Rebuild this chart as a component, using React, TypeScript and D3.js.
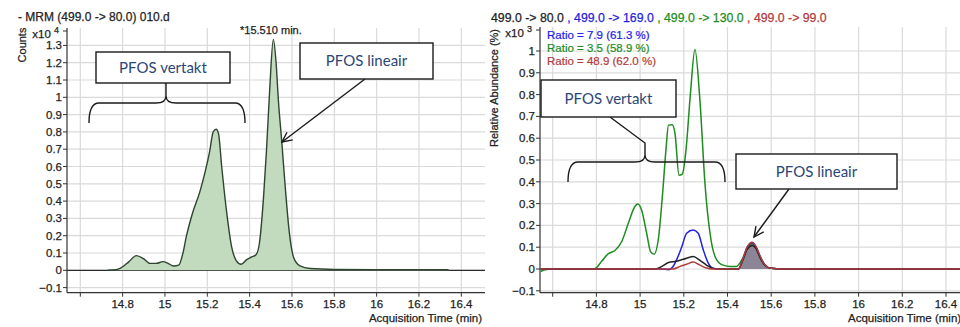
import { useEffect, useRef } from "react";
import * as d3 from "d3";

// ---- data ----
const xTicks = [14.6, 14.8, 15, 15.2, 15.4, 15.6, 15.8, 16, 16.2, 16.4];
const xTickLabels = ["", "14.8", "15", "15.2", "15.4", "15.6", "15.8", "16", "16.2", "16.4"];
const leftYTicks = [-0.1, 0, 0.1, 0.2, 0.3, 0.4, 0.5, 0.6, 0.7, 0.8, 0.9, 1, 1.1, 1.2, 1.3];
const rightYTicks = [-0.1, 0, 0.1, 0.2, 0.3, 0.4, 0.5, 0.6, 0.7, 0.8, 0.9, 1];

// counts x10^4, m/z 499 -> 80
const mrmTrace: [number, number][] = [
  [14.73, 0], [14.77, 0.003], [14.79, 0.012], [14.83, 0.05], [14.865, 0.085], [14.9, 0.066],
  [14.93, 0.04], [14.96, 0.04], [14.99, 0.05], [15.015, 0.04], [15.04, 0.025], [15.065, 0.03],
  [15.085, 0.1], [15.1, 0.19], [15.13, 0.33], [15.165, 0.455], [15.19, 0.57], [15.21, 0.68],
  [15.228, 0.8], [15.242, 0.815], [15.253, 0.79], [15.268, 0.6], [15.292, 0.33], [15.315, 0.135],
  [15.336, 0.058], [15.36, 0.035], [15.386, 0.062], [15.41, 0.077], [15.43, 0.09], [15.446, 0.155],
  [15.465, 0.41], [15.48, 0.7], [15.495, 1.05], [15.512, 1.335], [15.525, 1.2], [15.536, 0.98],
  [15.552, 0.74], [15.567, 0.5], [15.588, 0.213], [15.607, 0.077], [15.638, 0.025], [15.686, 0.01],
  [15.8, 0.005], [16.0, 0.004], [16.2, 0.004], [16.34, 0.003],
];

// relative abundance x10^3, qualifier traces
const trace80: [number, number][] = [
  [14.545, 0], [15.07, 0], [15.1, 0.012], [15.13, 0.03], [15.167, 0.036], [15.198, 0.045],
  [15.243, 0.057], [15.274, 0.04], [15.305, 0.017], [15.33, 0.004], [15.36, 0], [15.45, 0],
  [15.47, 0.04], [15.49, 0.09], [15.513, 0.108], [15.53, 0.095], [15.55, 0.05], [15.57, 0.018],
  [15.6, 0.003], [15.65, 0], [16.7, 0],
];
const trace169: [number, number][] = [
  [14.545, 0], [15.1, 0], [15.13, -0.003], [15.15, 0.01], [15.167, 0.042], [15.19, 0.1],
  [15.213, 0.164], [15.243, 0.179], [15.266, 0.164], [15.289, 0.088], [15.312, 0.027], [15.33, 0.005],
  [15.36, 0], [15.45, 0], [15.47, 0.045], [15.49, 0.1], [15.513, 0.12], [15.53, 0.1], [15.55, 0.055],
  [15.57, 0.02], [15.6, 0.003], [15.65, 0], [16.7, 0],
];
const trace130: [number, number][] = [
  [14.545, -0.012], [14.56, -0.005], [14.6, 0], [14.79, 0], [14.824, 0.035], [14.854, 0.07],
  [14.885, 0.085], [14.916, 0.126], [14.946, 0.21], [14.977, 0.288], [14.99, 0.298], [15.007, 0.27],
  [15.03, 0.164], [15.048, 0.08], [15.064, 0.068], [15.083, 0.133], [15.103, 0.346], [15.118, 0.543],
  [15.13, 0.66], [15.147, 0.662], [15.16, 0.62], [15.178, 0.43], [15.193, 0.435], [15.21, 0.545],
  [15.23, 0.8], [15.251, 1.007], [15.274, 0.77], [15.297, 0.39], [15.32, 0.164], [15.343, 0.057],
  [15.373, 0.02], [15.41, 0.012], [15.44, 0.012], [15.47, 0.05], [15.49, 0.095], [15.513, 0.117],
  [15.53, 0.1], [15.55, 0.055], [15.57, 0.02], [15.6, 0.003], [15.65, 0], [16.7, 0],
];
const trace99: [number, number][] = [
  [14.545, 0], [15.15, 0], [15.183, 0.012], [15.213, 0.022], [15.243, 0.032], [15.27, 0.02],
  [15.3, 0.006], [15.33, 0], [15.45, 0], [15.47, 0.045], [15.49, 0.1], [15.513, 0.123], [15.53, 0.105],
  [15.55, 0.058], [15.57, 0.02], [15.6, 0.003], [15.65, 0], [16.7, 0],
];

const transitions = [
  { label: "499.0 -> 80.0", color: "#222222" },
  { label: "499.0 -> 169.0", color: "#1f1fe0" },
  { label: "499.0 -> 130.0", color: "#1e8c1e" },
  { label: "499.0 -> 99.0", color: "#b03a3a" },
];
const ratios = [
  { label: "Ratio = 7.9 (61.3 %)", color: "#2020f0" },
  { label: "Ratio = 3.5 (58.9 %)", color: "#1e8c1e" },
  { label: "Ratio = 48.9 (62.0 %)", color: "#b03a3a" },
];

const AX = "Liberation Sans, Arial, sans-serif";
const BOXFONT = "Lato, 'Open Sans', sans-serif";
const GRID = "#dadada";
const TXT = "#222";

export default function App() {
  const ref = useRef<SVGSVGElement>(null);

  useEffect(() => {
    if (!ref.current) return;
    const svg = d3.select(ref.current);
    svg.selectAll("*").remove();

    const axisBottom = 292.7;

    // axis-style text, a touch heavier like the blurred original
    const label = (sel: d3.Selection<any, unknown, null, undefined>, size: number) =>
      sel.attr("font-size", size).attr("font-family", AX).attr("fill", TXT)
        .attr("stroke", TXT).attr("stroke-width", 0.25);

    function panel(opts: {
      x: d3.ScaleLinear<number, number>; y: d3.ScaleLinear<number, number>;
      left: number; right: number; top: number; yTicks: number[];
      exp: string; yTitle: string; yTitleX: number; yTitleY: number;
    }) {
      const { x, y, left, right, top, yTicks } = opts;
      const g = svg.append("g");
      // grid
      yTicks.forEach(v => {
        g.append("line").attr("x1", left).attr("x2", right)
          .attr("y1", y(v)).attr("y2", y(v)).attr("stroke", GRID).attr("stroke-width", 1.2);
      });
      xTicks.forEach(v => {
        g.append("line").attr("x1", x(v)).attr("x2", x(v))
          .attr("y1", top).attr("y2", axisBottom).attr("stroke", GRID).attr("stroke-width", 1.2);
      });
      // y axis
      g.append("line").attr("x1", left).attr("x2", left).attr("y1", top).attr("y2", axisBottom)
        .attr("stroke", "#333").attr("stroke-width", 1.2);
      yTicks.forEach(v => {
        g.append("line").attr("x1", left - 4).attr("x2", left).attr("y1", y(v)).attr("y2", y(v))
          .attr("stroke", "#333");
        label(g.append("text").attr("x", left - 5).attr("y", y(v) + 4).attr("text-anchor", "end"), 11.5)
          .text(d3.format("~g")(v));
      });
      g.append("line").attr("x1", left - 4).attr("x2", left).attr("y1", top + 3).attr("y2", top + 3)
        .attr("stroke", "#333");
      const ex = label(g.append("text").attr("x", left - 8).attr("y", top + 10).attr("text-anchor", "end"), 11.5);
      ex.append("tspan").text("x10 ");
      ex.append("tspan").attr("font-size", 9).attr("dy", -5).text(opts.exp);
      label(g.append("text").attr("transform", `translate(${opts.yTitleX},${opts.yTitleY}) rotate(-90)`)
        .attr("text-anchor", "middle"), 11).text(opts.yTitle);
      // x axis
      g.append("line").attr("x1", left).attr("x2", right).attr("y1", axisBottom).attr("y2", axisBottom)
        .attr("stroke", "#333").attr("stroke-width", 1.2);
      xTicks.forEach((v, i) => {
        g.append("line").attr("x1", x(v)).attr("x2", x(v)).attr("y1", axisBottom).attr("y2", axisBottom + 4)
          .attr("stroke", "#333");
        label(g.append("text").attr("x", x(v)).attr("y", axisBottom + 15).attr("text-anchor", "middle"), 11.5)
          .text(xTickLabels[i]);
      });
      return g;
    }

    // ---------- left panel ----------
    const xL = d3.scaleLinear().domain([14.6, 16.4]).range([80.3, 461.3]);
    const yL = d3.scaleLinear().domain([0, 1.3]).range([270.3, 45.4]);
    const gL = panel({
      x: xL, y: yL, left: 67, right: 485, top: 28, yTicks: leftYTicks,
      exp: "4", yTitle: "Counts", yTitleX: 26, yTitleY: 45,
    });
    gL.append("line").attr("x1", 67).attr("x2", 485).attr("y1", yL(0)).attr("y2", yL(0))
      .attr("stroke", "#2a2a2a").attr("stroke-width", 1.2);
    const areaL = d3.area<[number, number]>().x(d => xL(d[0])).y0(yL(0)).y1(d => yL(d[1]))
      .curve(d3.curveMonotoneX);
    const lineL = d3.line<[number, number]>().x(d => xL(d[0])).y(d => yL(d[1])).curve(d3.curveMonotoneX);
    gL.append("path").attr("d", areaL(mrmTrace)).attr("fill", "#c2dbbf");
    gL.append("path").attr("d", lineL(mrmTrace)).attr("fill", "none")
      .attr("stroke", "#2e4530").attr("stroke-width", 1.4);

    label(svg.append("text").attr("x", 18).attr("y", 20.5), 12).text("- MRM (499.0 -> 80.0) 010.d");
    label(svg.append("text").attr("x", 240).attr("y", 34), 11).text("*15.510 min.");
    label(svg.append("text").attr("x", 482).attr("y", 322).attr("text-anchor", "end"), 11.5)
      .text("Acquisition Time (min)");

    // ---------- right panel ----------
    const xR = d3.scaleLinear().domain([14.6, 16.4]).range([552.7, 946]);
    const yR = d3.scaleLinear().domain([0, 1]).range([269, 51]);
    const gR = panel({
      x: xR, y: yR, left: 540, right: 975, top: 27, yTicks: rightYTicks,
      exp: "3", yTitle: "Relative Abundance (%)", yTitleX: 498, yTitleY: 88,
    });
    const areaR = d3.area<[number, number]>().x(d => xR(d[0])).y0(yR(0)).y1(d => yR(d[1]))
      .curve(d3.curveMonotoneX);
    const lineR = d3.line<[number, number]>().x(d => xR(d[0])).y(d => yR(d[1])).curve(d3.curveMonotoneX);
    const peakFill = trace99.filter(d => d[0] >= 15.45 && d[0] <= 15.65);
    gR.append("path").attr("d", areaR(peakFill)).attr("fill", "#8b8596");
    const series: [[number, number][], string][] = [
      [trace130, transitions[2].color], [trace169, transitions[1].color],
      [trace80, transitions[0].color], [trace99, transitions[3].color],
    ];
    series.forEach(([data, color]) => {
      gR.append("path").attr("d", lineR(data)).attr("fill", "none")
        .attr("stroke", color).attr("stroke-width", 1.5);
    });

    const legend = svg.append("text").attr("x", 491).attr("y", 22).attr("font-size", 12.3)
      .attr("font-family", AX).attr("stroke-width", 0.25);
    transitions.forEach((t, i) => {
      legend.append("tspan").attr("fill", t.color).attr("stroke", t.color)
        .text((i > 0 ? " , " : "") + t.label);
    });
    ratios.forEach((r, i) => {
      svg.append("text").attr("x", 547).attr("y", 39 + i * 13).attr("font-size", 11.5)
        .attr("font-family", AX).attr("fill", r.color).attr("stroke", r.color).attr("stroke-width", 0.2)
        .text(r.label);
    });
    label(svg.append("text").attr("x", 848).attr("y", 322), 11.5).text("Acquisition Time (min)");

    // ---------- annotations ----------
    const ann = svg.append("g").attr("fill", "none").attr("stroke", "#1a1a1a").attr("stroke-width", 1.4);
    const box = (x0: number, y0: number, x1: number, y1: number, text: string) => {
      svg.append("rect").attr("x", x0).attr("y", y0).attr("width", x1 - x0).attr("height", y1 - y0)
        .attr("fill", "white").attr("stroke", "#1a1a1a").attr("stroke-width", 1.4);
      svg.append("text").attr("x", (x0 + x1) / 2).attr("y", (y0 + y1) / 2 + 5)
        .attr("text-anchor", "middle").attr("font-size", 15).attr("font-family", BOXFONT)
        .attr("fill", "#2c4677").text(text);
    };
    const arrow = (x0: number, y0: number, x1: number, y1: number) => {
      const a = Math.atan2(y1 - y0, x1 - x0), L = 11, w = 0.45;
      ann.append("line").attr("x1", x0).attr("y1", y0).attr("x2", x1).attr("y2", y1);
      ann.append("path").attr("d",
        `M${x1 - L * Math.cos(a - w)},${y1 - L * Math.sin(a - w)} L${x1},${y1} L${x1 - L * Math.cos(a + w)},${y1 - L * Math.sin(a + w)}`);
    };

    // left: branched brace + box
    ann.append("path").attr("d",
      "M89,123 Q89,103 99,103 L156,103 Q166,103 166,96 L166,83 M166,96 Q166,103 176,103 L235,103 Q245,103 245,123");
    box(96, 52, 230, 83, "PFOS vertakt");
    box(300, 43, 433, 79, "PFOS lineair");
    arrow(365, 79, 282, 142);

    // right
    ann.append("path").attr("d",
      "M568,182 Q568,162 578,162 L635,162 Q645,162 645,155 L645,143 L610,117 M645,155 Q645,162 655,162 L715,162 Q725,162 725,182");
    box(541, 80, 676, 117, "PFOS vertakt");
    box(736, 154, 897, 189, "PFOS lineair");
    arrow(789, 189, 754, 237);
  }, []);

  return (
    <svg ref={ref} width={960} height={327}
      style={{ position: "absolute", left: 0, top: 0, background: "white" }} />
  );
}
